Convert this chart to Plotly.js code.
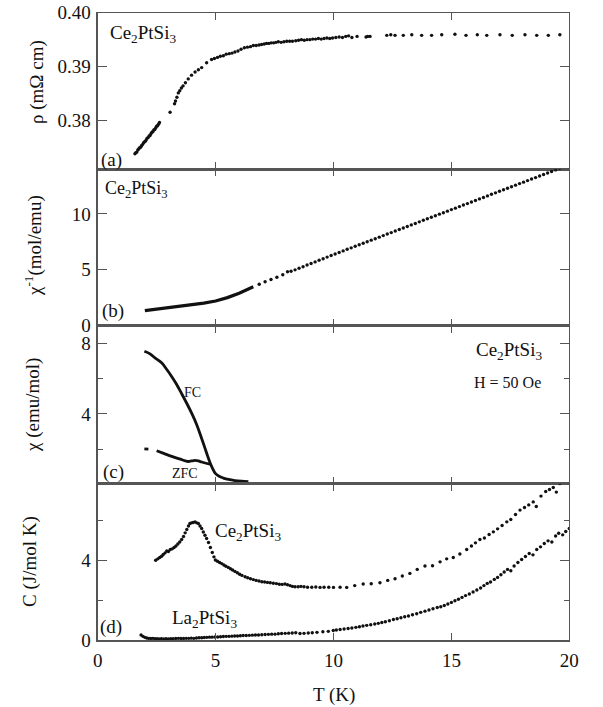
<!DOCTYPE html>
<html><head><meta charset="utf-8">
<script src="https://cdn.plot.ly/plotly-3.0.1.min.js"></script>
<style>html,body{margin:0;padding:0;background:#fff}#chart{width:603px;height:707px}</style>
</head><body><div id="chart"></div>
<script>
// ---- panel (a): resistivity
var rhoT = [1.58,1.62,1.66,1.70,1.74,1.78,1.82,1.86,1.90,1.94,1.98,2.02,2.06,2.10,2.14,2.18,2.22,2.26,2.30,2.34,2.38,2.42,2.46,2.50,2.54,2.58,2.62,
 3.07,3.26,3.30,3.36,3.42,3.48,3.55,3.62,3.72,3.84,3.98,4.13,4.27,4.41,4.62,4.83,4.95,5.08,5.20,5.33,5.45,5.58,5.70,5.82,5.95,6.08,6.22,6.35,6.48,6.60,6.72,6.84,6.95,7.06,7.16,7.26,7.36,7.46,7.56,7.66,7.78,7.90,8.02,8.14,8.26,8.40,8.52,8.64,8.76,8.88,9.00,9.12,9.24,9.36,9.48,9.60,9.72,9.84,
 9.96,10.10,10.24,10.38,10.52,10.64,10.78,11.00,11.38,11.45,11.55,
 12.26,12.43,12.61,12.96,13.32,13.74,14.16,14.59,15.15,15.62,16.10,16.50,17.06,17.58,18.12,18.62,19.11,19.60];
var rhoVal = [0.3738,0.3740,0.3741,0.3745,0.3747,0.3749,0.3750,0.3753,0.3755,0.3758,0.3760,0.3761,0.3764,0.3767,0.3768,0.3771,0.3772,0.3775,0.3778,0.3779,0.3782,0.3783,0.3786,0.3789,0.3790,0.3793,0.3796,
 0.3815,0.3831,0.3836,0.3843,0.3851,0.3855,0.3860,0.3864,0.3870,0.3877,0.3884,0.3890,0.3894,0.3898,0.3907,0.3913,0.3915,0.3917,0.3919,0.3920,0.3923,0.3924,0.3925,0.3927,0.3929,0.3932,0.3935,0.3936,0.3937,0.3939,0.3939,0.3940,0.3941,0.3942,0.3943,0.3943,0.3944,0.3944,0.3945,0.3946,0.3945,0.3946,0.3947,0.3947,0.3947,0.3948,0.3949,0.3950,0.3949,0.3950,0.3950,0.3951,0.3951,0.3952,0.3951,0.3952,0.3953,0.3952,
 0.3953,0.3954,0.3955,0.3954,0.3956,0.3957,0.3954,0.3956,0.3955,0.3956,0.3956,
 0.3958,0.3959,0.3958,0.3958,0.3959,0.3958,0.3958,0.3959,0.3960,0.3958,0.3959,0.3958,0.3959,0.3958,0.3959,0.3958,0.3958,0.3959];

// ---- panel (b): inverse susceptibility
var chiInvLineT = [2.0,2.5,3.0,3.5,4.0,4.5,5.0,5.5,6.0,6.3,6.6];
var chiInvLineVal = [1.33,1.45,1.57,1.70,1.84,2.00,2.20,2.50,2.90,3.18,3.48];
var chiInvDotT = [6.85,7.10,7.35,7.60,7.85,8.05,8.20,8.37,8.54,8.71,8.88,9.05,9.22,9.39,9.56,9.73,9.90,10.07,10.24,10.41,10.58,10.75,10.92,11.09,11.26,11.43,11.60,11.77,11.94,12.11,12.28,12.45,12.62,12.79,12.96,13.13,13.30,13.47,13.64,13.81,13.98,14.15,14.32,14.49,14.66,14.83,15.00,15.17,15.34,15.51,15.68,15.85,16.02,16.19,16.36,16.53,16.70,16.87,17.04,17.21,17.38,17.55,17.72,17.89,18.06,18.23,18.40,18.57,18.74,18.91,19.08,19.25,19.42,19.59];
var chiInvDotVal = [3.70,3.92,4.12,4.33,4.55,4.82,4.86,4.99,5.13,5.27,5.42,5.56,5.70,5.85,5.99,6.13,6.27,6.41,6.55,6.69,6.83,6.96,7.10,7.24,7.37,7.51,7.65,7.78,7.92,8.06,8.20,8.33,8.47,8.61,8.74,8.88,9.02,9.15,9.29,9.43,9.57,9.70,9.84,9.98,10.11,10.25,10.39,10.52,10.66,10.80,10.93,11.07,11.21,11.35,11.48,11.62,11.76,11.89,12.03,12.17,12.30,12.44,12.58,12.72,12.85,12.99,13.13,13.26,13.40,13.54,13.67,13.81,13.95,14.08];

// ---- panel (c): susceptibility FC / ZFC
var fcT = [1.98,2.22,2.43,2.71,2.93,3.15,3.35,3.56,3.77,4.00,4.20,4.38,4.55,4.66,4.77,4.88,4.98,5.15,5.33,5.55,5.82,6.10,6.39];
var fcVal = [7.56,7.41,7.18,6.90,6.52,6.10,5.67,5.15,4.62,4.00,3.39,2.72,2.06,1.62,1.21,0.88,0.64,0.46,0.36,0.28,0.22,0.18,0.15];
var zfcT = [1.98,2.15,null,2.50,2.80,3.14,3.50,3.84,3.98,4.13,4.27,4.41,4.60,4.77];
var zfcVal = [2.02,2.00,null,1.91,1.76,1.59,1.43,1.30,1.33,1.36,1.33,1.27,1.20,1.15];

// ---- panel (d): specific heat
var ceCT = [2.46,2.55,2.63,2.71,2.78,2.86,2.93,3.00,3.08,3.16,3.24,3.32,3.40,3.48,3.56,3.64,3.71,3.78,3.85,3.91,3.98,4.05,4.13,4.20,4.27,4.34,4.41,4.48,4.55,4.62,4.70,4.78,4.86,4.93,4.99,5.08,5.17,5.26,5.35,5.44,5.54,5.63,5.72,5.82,5.92,6.02,6.12,6.25,6.36,6.48,6.60,6.72,6.84,6.96,7.08,7.20,7.32,7.45,7.58,7.70,7.82,7.94,8.05,8.16,8.26,8.37,8.50,8.62,8.75,8.90,9.08,9.25,9.43,9.60,9.80,10.00,10.28,10.56,10.90,11.26,11.60,11.97,12.30,12.61,12.92,13.24,13.55,13.88,14.20,14.52,14.80,15.08,15.36,15.65,15.85,16.02,16.21,16.40,16.60,16.78,16.96,17.15,17.35,17.52,17.72,17.91,18.10,18.28,18.47,18.60,18.80,19.00,19.16,19.32,19.45,19.60];
var ceCVal = [4.01,4.08,4.15,4.21,4.30,4.38,4.48,4.45,4.55,4.58,4.65,4.72,4.82,4.92,5.05,5.20,5.38,5.55,5.72,5.85,5.88,5.90,5.93,5.88,5.85,5.72,5.60,5.42,5.26,5.10,4.90,4.65,4.40,4.18,4.02,3.96,3.90,3.84,3.77,3.71,3.65,3.58,3.52,3.45,3.38,3.31,3.25,3.18,3.13,3.08,3.04,3.00,2.97,2.93,2.92,2.90,2.88,2.86,2.84,2.81,2.80,2.82,2.78,2.74,2.70,2.68,2.68,2.70,2.68,2.66,2.66,2.67,2.65,2.66,2.66,2.65,2.66,2.65,2.74,2.82,2.83,2.88,3.00,3.08,3.22,3.35,3.55,3.72,3.73,3.93,4.08,4.15,4.32,4.55,4.72,4.88,5.05,5.12,5.30,5.43,5.58,5.75,5.93,6.05,6.30,6.52,6.65,6.78,6.93,6.70,7.22,7.45,7.55,7.65,7.42,7.85];
var laCT = [1.84,1.92,2.00,2.08,2.16,2.25,2.34,2.43,2.52,2.61,2.70,2.80,2.90,3.00,3.10,3.20,3.31,3.42,3.53,3.64,3.75,3.86,3.97,4.08,4.19,4.30,4.41,4.52,4.63,4.74,4.85,4.97,5.09,5.21,5.33,5.45,5.57,5.69,5.81,5.93,6.05,6.17,6.30,6.43,6.56,6.69,6.82,6.96,7.10,7.24,7.38,7.52,7.66,7.80,7.95,8.10,8.25,8.40,8.58,8.75,8.93,9.10,9.30,9.55,9.78,9.99,10.12,10.28,10.45,10.62,10.78,10.95,11.10,11.25,11.41,11.58,11.75,11.90,12.05,12.20,12.37,12.54,12.70,12.86,13.02,13.18,13.35,13.53,13.70,13.88,14.05,14.22,14.40,14.55,14.70,14.85,15.00,15.15,15.30,15.45,15.60,15.76,15.92,16.08,16.24,16.38,16.52,16.66,16.82,16.96,17.10,17.24,17.38,17.52,17.66,17.82,17.98,18.14,18.30,18.46,18.62,18.78,18.94,19.10,19.26,19.42,19.55,19.72,19.85,20.00];
var laCVal = [0.27,0.20,0.15,0.12,0.10,0.09,0.10,0.08,0.08,0.07,0.08,0.07,0.08,0.07,0.08,0.08,0.09,0.10,0.09,0.09,0.10,0.10,0.11,0.10,0.12,0.13,0.13,0.14,0.15,0.16,0.16,0.17,0.17,0.18,0.19,0.20,0.20,0.21,0.22,0.22,0.23,0.24,0.24,0.25,0.26,0.27,0.27,0.28,0.29,0.30,0.31,0.31,0.33,0.34,0.35,0.36,0.37,0.38,0.34,0.35,0.37,0.38,0.40,0.43,0.45,0.49,0.52,0.54,0.57,0.59,0.62,0.65,0.68,0.72,0.75,0.78,0.82,0.85,0.89,0.93,0.98,1.04,1.08,1.13,1.18,1.22,1.28,1.33,1.40,1.46,1.52,1.58,1.64,1.68,1.74,1.82,1.90,1.98,2.06,2.15,2.24,2.32,2.42,2.52,2.62,2.74,2.85,2.92,3.05,3.15,3.28,3.42,3.55,3.48,3.72,3.90,4.05,4.20,4.35,4.28,4.55,4.68,4.85,4.98,4.92,5.22,5.36,5.28,5.45,5.60];

// ---- tick labels
var xTicks = [0,5,10,15,20];
var yTicksA = [0.38,0.39,0.40], yTextA = ['0.38','0.39','0.40'];
var yTicksB = [0,5,10];
var yTicksC = [4,8], yMinorC = [2,6];
var yTicksD = [0,4], yMinorD = [2,6];

var FONT = '"Liberation Serif", serif';
var AX = '#555';
var dot = {size:3.4, color:'#111'};

var traces = [
  {x:rhoT, y:rhoVal, xaxis:'x', yaxis:'y', mode:'markers', marker:dot},
  {x:chiInvLineT, y:chiInvLineVal, xaxis:'x2', yaxis:'y2', mode:'lines', line:{color:'#111', width:3.2}},
  {x:chiInvDotT, y:chiInvDotVal, xaxis:'x2', yaxis:'y2', mode:'markers', marker:dot},
  {x:fcT, y:fcVal, xaxis:'x3', yaxis:'y3', mode:'lines', line:{color:'#111', width:2.8, shape:'spline'}},
  {x:zfcT, y:zfcVal, xaxis:'x3', yaxis:'y3', mode:'lines', line:{color:'#111', width:2.8, shape:'spline'}},
  {x:ceCT, y:ceCVal, xaxis:'x4', yaxis:'y4', mode:'markers', marker:dot},
  {x:laCT, y:laCVal, xaxis:'x4', yaxis:'y4', mode:'markers', marker:dot}
];

var XD = [0.1620, 0.9441];
function xax(anchor, labels){
  return {domain:XD, range:[0,20], anchor:anchor, tickmode:'array', tickvals:xTicks,
    ticks:'inside', ticklen:7, tickcolor:AX, showline:true, linecolor:AX, linewidth:1.2, mirror:'ticks',
    showgrid:false, zeroline:false, showticklabels:labels, ticklabelstandoff:3,
    tickfont:{family:FONT, size:19, color:'#111'}};
}
function yax(anchor, dom, range, vals, text, minor){
  var a = {domain:dom, range:range, anchor:anchor, tickmode:'array', tickvals:vals,
    ticks:'inside', ticklen:9, tickcolor:AX, showline:true, linecolor:AX, linewidth:1.2, mirror:'ticks',
    showgrid:false, zeroline:false, ticklabelstandoff:2,
    tickfont:{family:FONT, size:19, color:'#111'}};
  if (text) a.ticktext = text;
  if (minor) a.minor = {tickmode:'array', tickvals:minor, ticks:'inside', ticklen:5, tickcolor:AX};
  return a;
}

function ann(xref, yref, x, y, text, size, extra){
  var o = {xref:xref, yref:yref, x:x, y:y, text:text, showarrow:false,
    xanchor:'center', yanchor:'middle',
    font:{family:FONT, size:size, color:'#111'}};
  for (var k in extra) o[k] = extra[k];
  return o;
}

var layout = {
  width:603, height:707, margin:{l:0,r:0,t:0,b:0},
  paper_bgcolor:'#fff', plot_bgcolor:'#fff', showlegend:false,
  font:{family:FONT, color:'#111'},
  xaxis: xax('y', false),
  xaxis2: xax('y2', false),
  xaxis3: xax('y3', false),
  xaxis4: xax('y4', true),
  yaxis: yax('x', [0.7605,0.9820], [0.3709,0.400], yTicksA, yTextA),
  yaxis2: yax('x2', [0.5396,0.7605], [0,14], yTicksB),
  yaxis3: yax('x3', [0.3161,0.5396], [0.05,9.02], yTicksC, null, yMinorC),
  yaxis4: yax('x4', [0.0943,0.3161], [0,7.85], yTicksD, null, yMinorD),
  annotations: [
    ann('x','y', 1.93, 0.3961, 'Ce<sub>2</sub>PtSi<sub>3</sub>', 19),
    ann('x','y', 0.59, 0.3726, '(a)', 19),
    ann('x2','y2', 1.65, 12.2, 'Ce<sub>2</sub>PtSi<sub>3</sub>', 18),
    ann('x2','y2', 0.66, 1.33, '(b)', 19),
    ann('x3','y3', 17.45, 7.56, 'Ce<sub>2</sub>PtSi<sub>3</sub>', 19),
    ann('x3','y3', 17.4, 5.8, 'H = 50 Oe', 16),
    ann('x3','y3', 4.04, 5.2, 'FC', 14),
    ann('x3','y3', 3.7, 0.6, 'ZFC', 14),
    ann('x3','y3', 0.65, 0.73, '(c)', 19),
    ann('x4','y4', 6.39, 5.43, 'Ce<sub>2</sub>PtSi<sub>3</sub>', 19),
    ann('x4','y4', 4.55, 1.05, 'La<sub>2</sub>PtSi<sub>3</sub>', 19),
    ann('x4','y4', 0.56, 0.68, '(d)', 19),
    ann('paper','paper', 37/603, 1-82/707, 'ρ (mΩ cm)', 19, {textangle:-90}),
    ann('paper','paper', 33/603, 1-246/707, 'χ<sup>-1</sup>(mol/emu)', 19, {textangle:-90}),
    ann('paper','paper', 33/603, 1-405/707, 'χ (emu/mol)', 19, {textangle:-90}),
    ann('paper','paper', 30/603, 1-562/707, 'C (J/mol K)', 19, {textangle:-90}),
    ann('paper','paper', 334/603, 1-695/707, 'T (K)', 19)
  ]
};

Plotly.newPlot('chart', traces, layout, {staticPlot:true, displayModeBar:false});
</script></body></html>
